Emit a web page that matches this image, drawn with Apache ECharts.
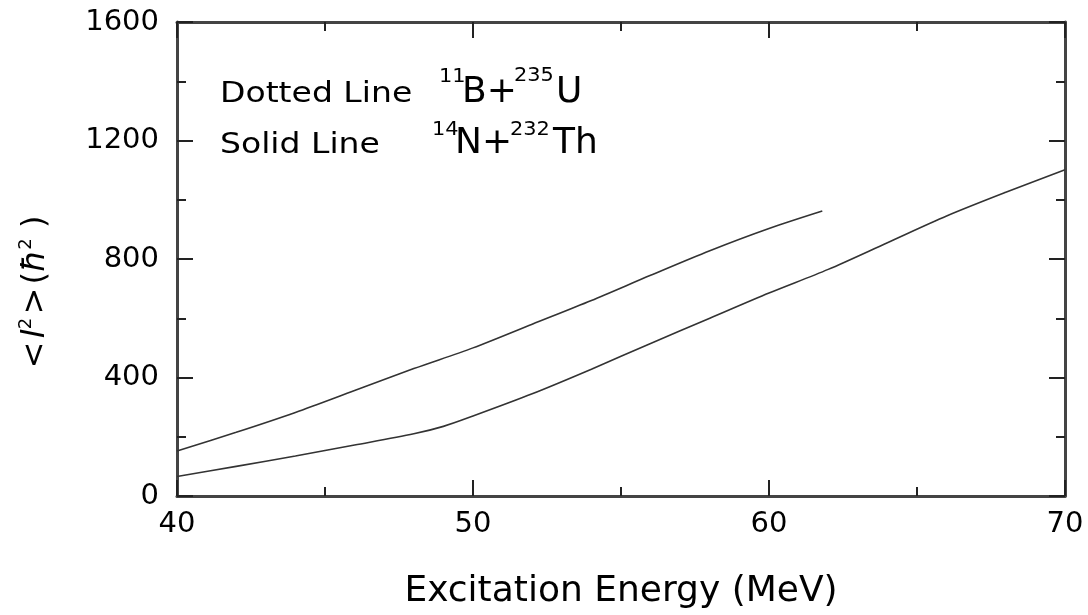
<!DOCTYPE html>
<html>
<head>
<meta charset="utf-8">
<script src="https://cdn.jsdelivr.net/npm/echarts@6/dist/echarts.min.js"></script>
<style>
  html, body { margin: 0; padding: 0; background: #fff; }
  #chart { width: 1088px; height: 615px; }
</style>
</head>
<body>
<div id="chart"></div>
<script>
// Mean squared angular momentum vs excitation energy for two fusion reactions
const energyBU = [40, 42, 44, 46, 48, 50, 52, 54, 56, 58, 60, 61.8];
const spinBU   = [152, 215, 282, 356, 430, 500, 580, 660, 745, 828, 903, 962];

const energyNT = [40, 42, 44, 46, 48, 49, 50, 52, 54, 56, 58, 60, 62, 64, 66, 68, 70];
const spinNT   = [66, 100, 135, 172, 210, 235, 270, 345, 428, 515, 600, 685, 765, 855, 945, 1025, 1101];

const xTicks = [40, 50, 60, 70];
const yTicks = [0, 400, 800, 1200, 1600];

const FONT = '"DejaVu Sans", sans-serif';
const FRAME = '#444';

const chart = echarts.init(document.getElementById('chart'));

function pairs(xs, ys) { return xs.map((x, i) => [x, ys[i]]); }

function axisCommon(showLabels) {
  return {
    axisLine: { show: true, onZero: false, lineStyle: { color: FRAME, width: 3 } },
    axisTick: { show: true, inside: true, length: 16, lineStyle: { color: '#222', width: 2 } },
    minorTick: { show: true, splitNumber: 2, length: 9, lineStyle: { color: '#222', width: 2 } },
    splitLine: { show: false },
    axisLabel: { show: showLabels, color: '#000', fontFamily: FONT, fontSize: 29,
                 formatter: v => String(v) }
  };
}

// annotation pieces: [text, left x, vertical centre, font size, horizontal stretch]
function textPiece(t, x, y, size, sx) {
  return {
    type: 'text', x: x, y: y, scaleX: sx, silent: true,
    style: { text: t, x: 0, y: 0, fill: '#000', font: size + 'px ' + FONT,
             textAlign: 'left', textVerticalAlign: 'middle', verticalAlign: 'middle' }
  };
}

const legendText = [
  textPiece('Dotted Line', 220, 95, 28, 1.18),
  textPiece('11', 439, 77, 19, 1.1),
  textPiece('B+', 462, 93, 36, 1.0),
  textPiece('235', 514, 76, 19, 1.1),
  textPiece('U', 556, 93, 36, 1.0),
  textPiece('Solid Line', 220, 146, 28, 1.18),
  textPiece('14', 432, 130, 19, 1.1),
  textPiece('N+', 455, 144, 36, 1.0),
  textPiece('232', 510, 130, 19, 1.1),
  textPiece('Th', 553, 144, 36, 1.0)
];

const yName = {
  type: 'text', x: 36, y: 292, rotation: Math.PI / 2, silent: true,
  style: {
    text: '{n|<} {i|l}{s|2} {n|>} {n|(}{i|ħ}{s|2}{n| )}',
    x: 0, y: 0, align: 'center', verticalAlign: 'middle',
    textAlign: 'center', textVerticalAlign: 'middle',
    rich: {
      n: { fontFamily: FONT, fontSize: 32, lineHeight: 38, fill: '#000', color: '#000' },
      i: { fontFamily: FONT, fontSize: 32, fontStyle: 'italic', lineHeight: 38, fill: '#000', color: '#000' },
      s: { fontFamily: FONT, fontSize: 18, lineHeight: 18, verticalAlign: 'top', fill: '#000', color: '#000' }
    }
  }
};

chart.setOption({
  animation: false,
  backgroundColor: '#fff',
  grid: { left: 177, right: 23, top: 22, bottom: 108, containLabel: false },
  xAxis: [
    Object.assign(axisCommon(true), {
      type: 'value', position: 'bottom', min: 40, max: 70, interval: 10,
      axisLabel: Object.assign(axisCommon(true).axisLabel, { margin: 14,
        customValues: xTicks }),
      name: 'Excitation Energy (MeV)', nameLocation: 'middle', nameGap: 78,
      nameTextStyle: { color: '#000', fontFamily: FONT, fontSize: 36 }
    }),
    Object.assign(axisCommon(false), {
      type: 'value', position: 'top', min: 40, max: 70, interval: 10
    })
  ],
  yAxis: [
    Object.assign(axisCommon(true), {
      type: 'value', position: 'left', min: 0, max: 1600, interval: 400,
      axisLabel: Object.assign(axisCommon(true).axisLabel, { margin: 18,
        customValues: yTicks })
    }),
    Object.assign(axisCommon(false), {
      type: 'value', position: 'right', min: 0, max: 1600, interval: 400
    })
  ],
  series: [
    {
      name: '11B+235U', type: 'line', xAxisIndex: 0, yAxisIndex: 0,
      data: pairs(energyBU, spinBU), showSymbol: false, smooth: 0.3,
      lineStyle: { color: '#333', width: 1.6 }
    },
    {
      name: '14N+232Th', type: 'line', xAxisIndex: 0, yAxisIndex: 0,
      data: pairs(energyNT, spinNT), showSymbol: false, smooth: 0.3,
      lineStyle: { color: '#333', width: 1.6 }
    }
  ],
  graphic: legendText.concat([yName])
});
</script>
</body>
</html>
